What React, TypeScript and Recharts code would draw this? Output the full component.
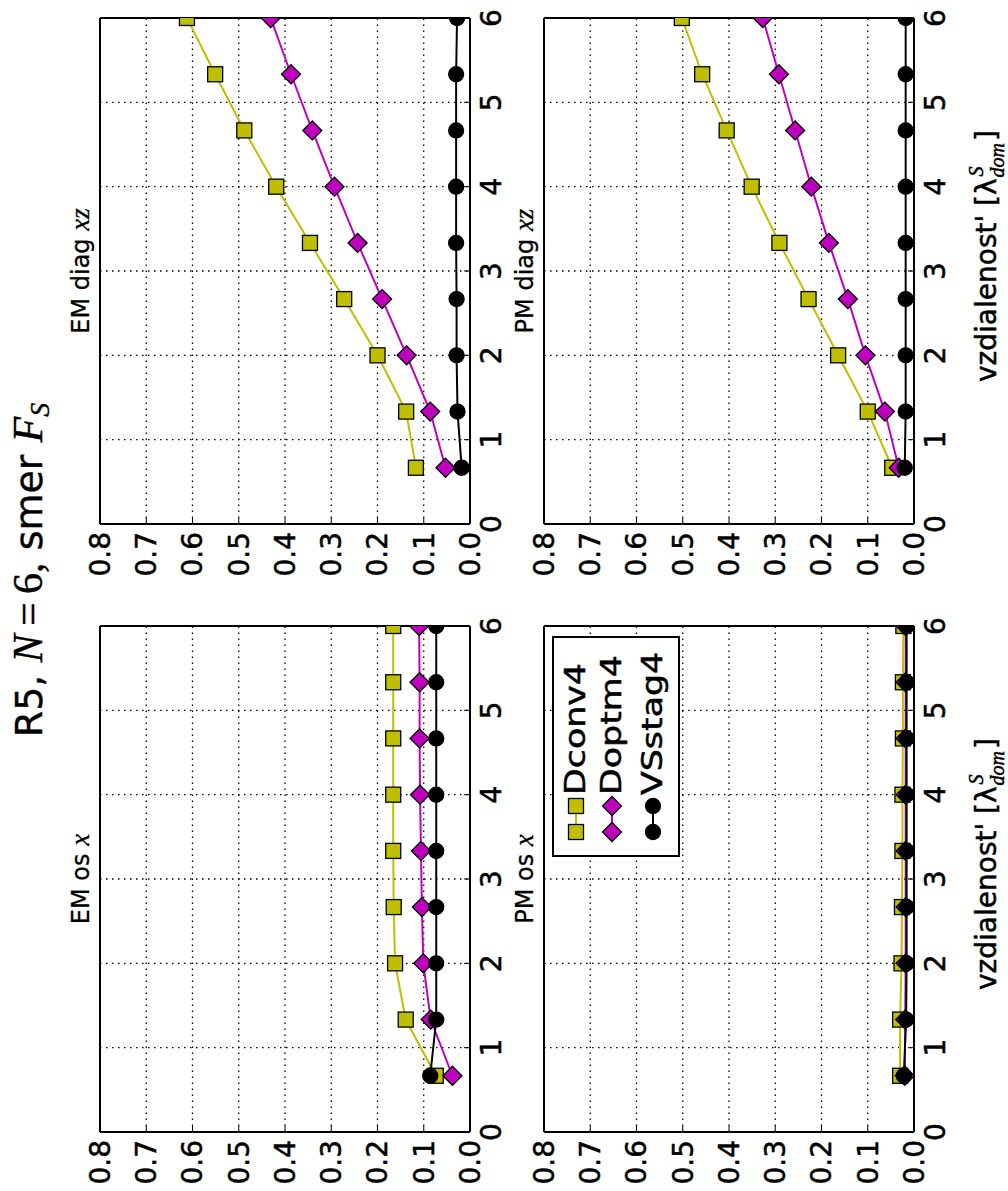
import React from 'react';
import { LineChart, Line, XAxis, YAxis, CartesianGrid, Legend } from 'recharts';

// ---------- data ----------
const distances = [0.667, 1.333, 2, 2.667, 3.333, 4, 4.667, 5.333, 6];
const xTicks = [0, 1, 2, 3, 4, 5, 6];
const yTicks = [0, 0.1, 0.2, 0.3, 0.4, 0.5, 0.6, 0.7, 0.8];

const emOsDconv = [0.074, 0.139, 0.162, 0.165, 0.166, 0.166, 0.166, 0.166, 0.166];
const emOsDoptm = [0.038, 0.085, 0.101, 0.104, 0.106, 0.108, 0.109, 0.109, 0.11];
const emOsVSstag = [0.086, 0.073, 0.073, 0.073, 0.073, 0.073, 0.073, 0.073, 0.073];

const emDiagDconv = [0.117, 0.138, 0.2, 0.272, 0.346, 0.419, 0.488, 0.551, 0.612];
const emDiagDoptm = [0.053, 0.086, 0.137, 0.19, 0.243, 0.293, 0.341, 0.387, 0.431];
const emDiagVSstag = [0.018, 0.027, 0.029, 0.029, 0.03, 0.03, 0.03, 0.03, 0.028];

const pmOsDconv = [0.03, 0.03, 0.027, 0.026, 0.025, 0.025, 0.024, 0.024, 0.023];
const pmOsDoptm = [0.02, 0.019, 0.018, 0.018, 0.018, 0.018, 0.018, 0.018, 0.018];
const pmOsVSstag = [0.022, 0.017, 0.016, 0.016, 0.016, 0.016, 0.016, 0.016, 0.016];

const pmDiagDconv = [0.047, 0.1, 0.164, 0.228, 0.291, 0.351, 0.405, 0.458, 0.502];
const pmDiagDoptm = [0.033, 0.063, 0.105, 0.143, 0.184, 0.222, 0.257, 0.292, 0.327];
const pmDiagVSstag = [0.02, 0.018, 0.018, 0.018, 0.018, 0.018, 0.018, 0.018, 0.018];

const seriesNames = ['Dconv4', 'Doptm4', 'VSstag4'];

// ---------- styles ----------
const FONT = 'DejaVu Sans, Verdana, sans-serif';
const MATH = 'Liberation Serif, DejaVu Serif, serif';
const TEXT_STROKE = 0.5;
const seriesStyle: Record<string, { color: string; shape: string }> = {
  Dconv4: { color: '#bfbf00', shape: 'square' },
  Doptm4: { color: '#bf00bf', shape: 'diamond' },
  VSstag4: { color: '#000000', shape: 'circle' },
};

const PLOT_W = 506;
const PLOT_H = 370;
const COLS = [59, 667];
const ROWS = [100, 544];
const Y_AXIS_W = 58;
const M_TOP = 40;
const M_RIGHT = 8;

function Marker({ shape, x, y, color }: { shape: string; x: number; y: number; color: string }) {
  if (shape === 'square') {
    return <rect x={x - 7.5} y={y - 7.5} width={15} height={15} fill={color} stroke="#000" strokeWidth={1.3} />;
  }
  if (shape === 'diamond') {
    const h = 9.5;
    return (
      <polygon
        points={`${x},${y - h} ${x + h},${y} ${x},${y + h} ${x - h},${y}`}
        fill={color}
        stroke="#000"
        strokeWidth={1.3}
      />
    );
  }
  return <circle cx={x} cy={y} r={7.5} fill={color} stroke="#000" strokeWidth={1.3} />;
}

const makeDot = (name: string) => (props: any) => {
  const { cx, cy, index } = props;
  if (cx == null || cy == null) return <g key={`e${index}`} />;
  const s = seriesStyle[name];
  return <Marker key={`m${index}`} shape={s.shape} x={cx} y={cy} color={s.color} />;
};

function LegendBox(props: any) {
  const payload = props.payload || [];
  const rowY = [24, 60, 101];
  return (
    <svg width={221} height={128} style={{ display: 'block' }}>
      <rect x={1} y={1} width={219} height={126} fill="#fff" stroke="#000" strokeWidth={2} />
      {payload.map((p: any, i: number) => {
        const s = seriesStyle[p.value];
        const cy = rowY[i];
        return (
          <g key={p.value}>
            <line x1={25} x2={51} y1={cy} y2={cy} stroke={s.color} strokeWidth={2} />
            <Marker shape={s.shape} x={25} y={cy} color={s.color} />
            <Marker shape={s.shape} x={51} y={cy} color={s.color} />
            <text
              transform={`translate(62, ${cy + 9}) scale(1.2, 1)`}
              x={0}
              y={0}
              fontSize={29}
              fontFamily={FONT}
              fill="#000"
              stroke="#000"
              strokeWidth={TEXT_STROKE}
            >
              {p.value}
            </text>
          </g>
        );
      })}
    </svg>
  );
}

function XLabel(props: any) {
  const vb = props.viewBox || {};
  const x = vb.x + vb.width / 2 + 15;
  const y = vb.y + 82;
  return (
    <text x={x} y={y} textAnchor="middle" fontSize={28} fontFamily={FONT} fill="#000" stroke="#000" strokeWidth={TEXT_STROKE}>
      <tspan>vzdialenost' [λ</tspan>
      <tspan fontFamily={MATH} fontStyle="italic" fontSize={20} dy={-13} dx={2}>S</tspan>
      <tspan fontFamily={MATH} fontStyle="italic" fontSize={20} dy={21} dx={-11}>dom</tspan>
      <tspan dy={-8} dx={2}>]</tspan>
    </text>
  );
}

const makeTitle = (text: string, math: string) => (props: any) => {
  const vb = props.viewBox || {};
  return (
    <text
      x={vb.x + vb.width / 2}
      y={vb.y + vb.height - 11}
      textAnchor="middle"
      fontSize={24}
      fontFamily={FONT}
      fill="#000"
      stroke="#000"
      strokeWidth={0.3}
    >
      <tspan>{text} </tspan>
      <tspan fontFamily={MATH} fontStyle="italic" fontSize={27}>{math}</tspan>
    </text>
  );
};

type PanelProps = {
  title: string;
  math: string;
  col: number;
  row: number;
  dconv: number[];
  doptm: number[];
  vsstag: number[];
  legend: boolean;
  xlabel: boolean;
};

function Panel({ title, math, col, row, dconv, doptm, vsstag, legend, xlabel }: PanelProps) {
  const data = distances.map((d, i) => ({
    d,
    Dconv4: dconv[i],
    Doptm4: doptm[i],
    VSstag4: vsstag[i],
  }));
  const xAxisH = xlabel ? 95 : 40;
  const width = Y_AXIS_W + PLOT_W + M_RIGHT;
  const height = M_TOP + PLOT_H + xAxisH;
  const left = COLS[col] - Y_AXIS_W;
  const top = ROWS[row] - M_TOP;
  const axisLine = { stroke: '#000', strokeWidth: 2 };
  const tickLine = { stroke: '#000', strokeWidth: 1 };
  const tickStyle = { fontSize: 28, fill: '#000', fontFamily: FONT, stroke: '#000', strokeWidth: TEXT_STROKE };
  return (
    <div style={{ position: 'absolute', left, top, width, height }}>
      <LineChart width={width} height={height} data={data} margin={{ top: M_TOP - 1, right: M_RIGHT - 1, bottom: 0, left: 0 }}>
        <CartesianGrid
          xAxisId="b"
          yAxisId="l"
          stroke="#000"
          strokeWidth={1.3}
          strokeDasharray="1.5 4.5"
        />
        {seriesNames.map((name) => (
          <Line
            key={name}
            xAxisId="b"
            yAxisId="l"
            type="linear"
            dataKey={name}
            name={name}
            stroke={seriesStyle[name].color}
            strokeWidth={2}
            dot={makeDot(name)}
            activeDot={false}
            isAnimationActive={false}
          />
        ))}
        <XAxis
          xAxisId="b"
          dataKey="d"
          type="number"
          domain={[0, 6]}
          ticks={xTicks}
          allowDataOverflow
          height={xAxisH}
          tickSize={-6}
          tickMargin={17}
          axisLine={axisLine}
          tickLine={tickLine}
          tick={tickStyle}
          interval={0}
          label={xlabel ? <XLabelWrap /> : undefined}
        />
        <XAxis
          xAxisId="t"
          orientation="top"
          dataKey="d"
          type="number"
          domain={[0, 6]}
          ticks={xTicks}
          allowDataOverflow
          height={1}
          tickSize={-6}
          axisLine={axisLine}
          tickLine={tickLine}
          tick={false}
          interval={0}
          label={{ content: makeTitle(title, math) } as any}
        />
        <YAxis
          yAxisId="l"
          type="number"
          domain={[0, 0.8]}
          ticks={yTicks}
          allowDataOverflow
          width={Y_AXIS_W}
          tickSize={-6}
          tickMargin={14}
          axisLine={axisLine}
          tickLine={tickLine}
          tick={tickStyle}
          interval={0}
          tickFormatter={(v: number) => v.toFixed(1)}
        />
        <YAxis
          yAxisId="r"
          orientation="right"
          type="number"
          domain={[0, 0.8]}
          ticks={yTicks}
          allowDataOverflow
          width={1}
          tickSize={-6}
          axisLine={axisLine}
          tickLine={tickLine}
          tick={false}
          interval={0}
        />
        {legend && (
          <Legend
            layout="vertical"
            align="center"
            verticalAlign="middle"
            content={<LegendBox />}
            wrapperStyle={{ left: 333, top: 48, width: 221, height: 128 }}
          />
        )}
      </LineChart>
    </div>
  );
}

function XLabelWrap(props: any) {
  return <XLabel {...props} />;
}

export default function App() {
  return (
    <div style={{ position: 'absolute', left: 0, top: 0, width: 1008, height: 1191, overflow: 'hidden', background: '#fff' }}>
      <div
        style={{
          position: 'absolute',
          left: 0,
          top: 0,
          width: 1191,
          height: 1008,
          transformOrigin: '0 0',
          transform: 'translateY(1191px) rotate(-90deg)',
          background: '#fff',
        }}
      >
        <svg width={1191} height={60} style={{ position: 'absolute', left: 0, top: 0 }}>
          <text x={621} y={42} textAnchor="middle" fontSize={38} fontFamily={FONT} fill="#000" stroke="#000" strokeWidth={0.4}>
            <tspan>R5, </tspan>
            <tspan fontFamily={MATH} fontStyle="italic" fontSize={42}>N</tspan>
            <tspan fontFamily={MATH} fontSize={42}>{'\u2009=\u20096'}</tspan>
            <tspan fontFamily={MATH} fontSize={42}>,</tspan>
            <tspan> smer </tspan>
            <tspan fontFamily={MATH} fontStyle="italic" fontSize={42}>F</tspan>
            <tspan fontFamily={MATH} fontStyle="italic" fontSize={28} dy={7}>S</tspan>
          </text>
        </svg>
        <Panel title="EM os" math="x" col={0} row={0} dconv={emOsDconv} doptm={emOsDoptm} vsstag={emOsVSstag} legend={false} xlabel={false} />
        <Panel title="EM diag" math="xz" col={1} row={0} dconv={emDiagDconv} doptm={emDiagDoptm} vsstag={emDiagVSstag} legend={false} xlabel={false} />
        <Panel title="PM os" math="x" col={0} row={1} dconv={pmOsDconv} doptm={pmOsDoptm} vsstag={pmOsVSstag} legend={true} xlabel={true} />
        <Panel title="PM diag" math="xz" col={1} row={1} dconv={pmDiagDconv} doptm={pmDiagDoptm} vsstag={pmDiagVSstag} legend={false} xlabel={true} />
      </div>
    </div>
  );
}
